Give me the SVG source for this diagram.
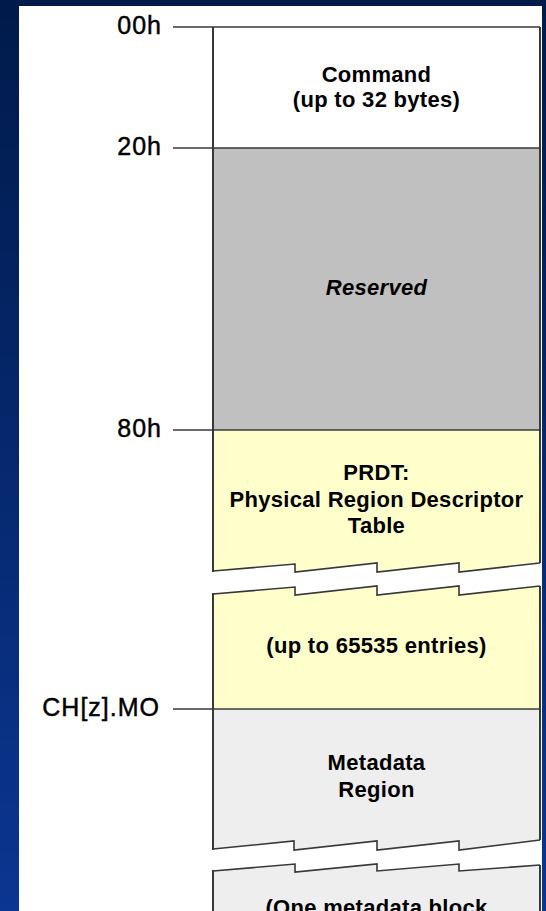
<svg xmlns="http://www.w3.org/2000/svg" width="546" height="911" viewBox="0 0 546 911">
<defs>
<linearGradient id="bg" x1="0" y1="0" x2="0" y2="1">
<stop offset="0" stop-color="#001A4A"/>
<stop offset="1" stop-color="#0B3691"/>
</linearGradient>
</defs>
<style>
.box{font-family:"Liberation Sans",Arial,sans-serif;font-weight:bold;font-size:22px;fill:#000;text-anchor:middle;letter-spacing:0.3px}
.lbl{font-family:"Liberation Sans",Arial,sans-serif;font-size:25px;fill:#000;stroke:#000;stroke-width:0.45px;text-anchor:end;letter-spacing:1px}
.edge{fill:none;stroke:#383838;stroke-width:2}
.jag{fill:none;stroke:#383838;stroke-width:1.6;stroke-linejoin:miter}
.lead{fill:none;stroke:#383838;stroke-width:1.6}
</style>
<rect x="0" y="0" width="546" height="911" fill="url(#bg)"/>
<rect x="19" y="6" width="523" height="905" fill="#FFFFFF"/>

<g id="command">
<rect x="213" y="27" width="327" height="121" fill="#FFFFFF"/>
<line class="edge" x1="213" y1="27" x2="213" y2="148"/>
<line class="edge" x1="540" y1="27" x2="540" y2="148"/>
<text class="box" x="376.5" y="82">Command</text>
<text class="box" x="376.5" y="107">(up to 32 bytes)</text>
</g>

<g id="reserved">
<rect x="213" y="148" width="327" height="282" fill="#C0C0C0"/>
<line class="edge" x1="213" y1="148" x2="213" y2="430"/>
<line class="edge" x1="540" y1="148" x2="540" y2="430"/>
<text class="box" x="376.5" y="295" font-style="italic">Reserved</text>
</g>

<g id="prdt">
<path d="M213,430 H540 V563 L459,572 V563 L377,572 V563 L295,572 V564 L213,571 Z" fill="#FFFFCC"/>
<path d="M213,594 L295,587 V595 L377,586 V595 L459,586 V595 L540,586 V709 H213 Z" fill="#FFFFCC"/>
<line class="edge" x1="213" y1="430" x2="213" y2="572"/>
<line class="edge" x1="540" y1="430" x2="540" y2="563"/>
<polyline class="jag" points="213,571 295,564 295,572 377,563 377,572 459,563 459,572 540,563"/>
<polyline class="jag" points="213,594 295,587 295,595 377,586 377,595 459,586 459,595 540,586"/>
<line class="edge" x1="213" y1="593" x2="213" y2="709"/>
<line class="edge" x1="540" y1="586" x2="540" y2="709"/>
<text class="box" x="376.5" y="480">PRDT:</text>
<text class="box" x="376.5" y="507">Physical Region Descriptor</text>
<text class="box" x="376.5" y="533">Table</text>
<text class="box" x="376.5" y="653">(up to 65535 entries)</text>
</g>

<g id="metadata">
<path d="M213,709 H540 V840 L459,850 V841 L377,850 V841 L294,850 V841 L213,849 Z" fill="#EEEEEE"/>
<path d="M213,871 L295,864 V872 L377,864 V871 L459,864 V871 L540,865 V911 H213 Z" fill="#EEEEEE"/>
<line class="edge" x1="213" y1="709" x2="213" y2="850"/>
<line class="edge" x1="540" y1="709" x2="540" y2="840"/>
<polyline class="jag" points="213,849 294,841 294,850 377,841 377,850 459,841 459,850 540,840"/>
<polyline class="jag" points="213,871 295,864 295,872 377,864 377,871 459,864 459,871 540,865"/>
<line class="edge" x1="213" y1="870" x2="213" y2="911"/>
<line class="edge" x1="540" y1="865" x2="540" y2="911"/>
<text class="box" x="376.5" y="770">Metadata</text>
<text class="box" x="376.5" y="797">Region</text>
<text class="box" x="376.5" y="915">(One metadata block</text>
</g>

<g id="connectors">
<line class="lead" x1="173" y1="27" x2="540" y2="27" stroke-width="2"/>
<line class="lead" x1="173" y1="148" x2="540" y2="148" stroke="#7A7A7A" stroke-width="1"/>
<line class="lead" x1="173" y1="430" x2="540" y2="430"/>
<line class="lead" x1="173" y1="709" x2="540" y2="709"/>
</g>

<g id="labels">
<text class="lbl" x="162" y="34">00h</text>
<text class="lbl" x="162" y="155">20h</text>
<text class="lbl" x="162" y="437">80h</text>
<text class="lbl" x="160" y="716">CH[z].MO</text>
</g>
</svg>
